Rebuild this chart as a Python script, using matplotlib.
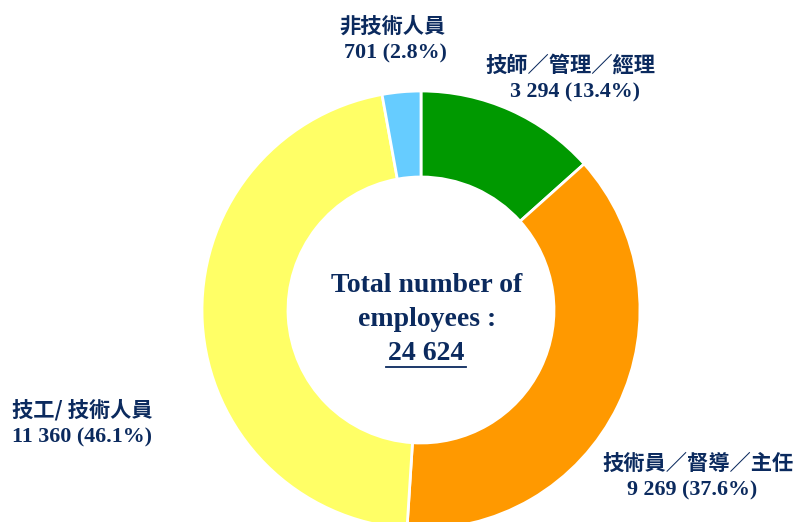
import matplotlib.pyplot as plt

labels = ["技師／管理／經理", "技術員／督導／主任", "技工/ 技術人員", "非技術人員"]
counts = [3294, 9269, 11360, 701]
shares = [13.4, 37.6, 46.1, 2.8]
colors = ["#009900", "#FF9900", "#FFFF66", "#66CCFF"]
total = 24624

navy = "#0B2A5E"
cjk = ["Noto Sans CJK TC", "DejaVu Sans"]
serif = "Liberation Serif"


def fmt(n):
    return f"{n:,}".replace(",", " ")


fig = plt.figure(figsize=(7.97, 5.22), dpi=100)
ax = fig.add_axes([0, 0, 1, 1])

ax.pie(counts, colors=colors, startangle=90, counterclock=False,
       center=(421, 522 - 310), radius=219,
       wedgeprops=dict(width=86, edgecolor="white", linewidth=2))
ax.set_xlim(0, 797)
ax.set_ylim(0, 522)
ax.set_aspect("equal")
ax.axis("off")

# label positions: x, y of the Chinese line, x of the number line, alignment
pos = [(570, 457, 575, "center"), (698, 59, 692, "center"),
       (12, 112, 12, "left"), (392, 496, 395, "center")]
for lab, n, s, (x, y, nx, ha) in zip(labels, counts, shares, pos):
    ax.text(x, y, lab, family=cjk, fontsize=15.3, fontweight="bold",
            color=navy, ha=ha, va="center")
    ax.text(nx, y - 27, f"{fmt(n)} ({s}%)", family=serif, fontweight="bold",
            fontsize=15.8, color=navy, ha=ha, va="center")

ax.text(427, 237, "Total number of", family=serif, fontweight="bold",
        fontsize=20, color=navy, ha="center", va="center")
ax.text(427, 202, "employees :", family=serif, fontweight="bold",
        fontsize=20, color=navy, ha="center", va="center")
ax.text(426, 168, fmt(total), family=serif, fontweight="bold",
        fontsize=20, color=navy, ha="center", va="center")
ax.plot([386, 466], [155, 155], color=navy, lw=1.3)

fig.savefig("out.png", dpi=100)
